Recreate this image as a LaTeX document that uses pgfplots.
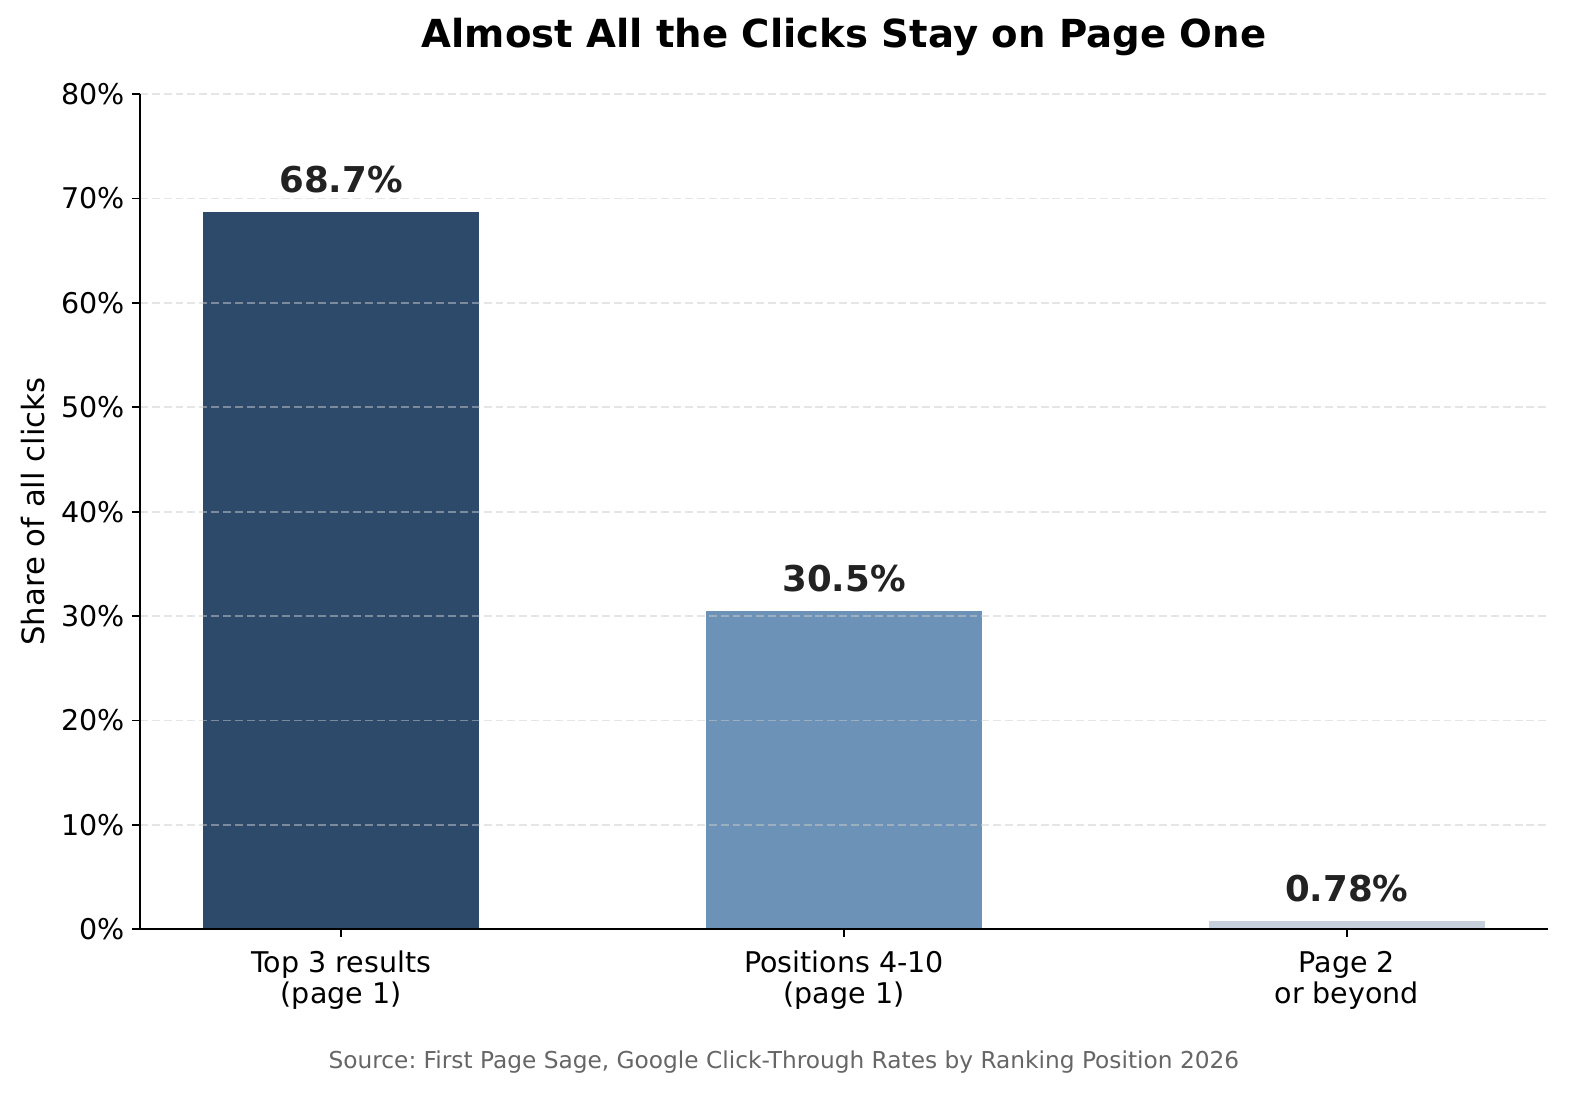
\documentclass[border=0pt]{standalone}
\usepackage{pgfplots}
\pgfplotsset{compat=1.18}
\usepackage{fontspec}
\setmainfont{DejaVu Sans}
\frenchspacing
\definecolor{c1}{HTML}{2D4A6B}
\definecolor{c2}{HTML}{6D92B7}
\definecolor{c3}{HTML}{C6D0DC}
\definecolor{lab}{HTML}{222222}
\definecolor{src}{HTML}{666666}
\definecolor{gridc}{HTML}{CCCCCC}
\begin{document}
\begin{tikzpicture}
\fill[white] (0,0) rectangle (720pt,503.1pt);
\begin{axis}[
  at={(63.8pt,79.7pt)}, anchor=south west,
  scale only axis, width=641.6pt, height=380.5pt,
  xmin=-0.4, xmax=2.4, ymin=0, ymax=80,
  axis x line*=bottom, axis y line*=left,
  axis line style={line width=0.8pt, black},
  axis on top,
  tick align=outside, major tick length=3.5pt,
  tick style={line width=0.8pt, black},
  /pgf/number format/assume math mode=true,
  xtick={0,1,2},
  xticklabels={{Top 3 results\\(page 1)},{Positions 4-10\\(page 1)},{Page 2\\or beyond}},
  xticklabel style={align=center, font=\fontsize{13}{14.2}\selectfont, yshift=-3pt},
  ytick={0,10,...,80},
  yticklabel={\pgfmathprintnumber{\tick}\%},
  yticklabel style={font=\fontsize{13}{14.2}\selectfont},
  ymajorgrids,
  major grid style={dash pattern=on 3.6pt off 1.8pt, line width=0.8pt, gridc, opacity=0.5},
  ybar, bar width=0.55,
  point meta=explicit symbolic,
  nodes near coords,
  every node near coord/.append style={font=\bfseries\fontsize{16.2}{18}\selectfont, text=lab, anchor=base, yshift=9pt, inner sep=0pt},
]
\addplot[fill=c1, draw=none, bar shift=0pt] coordinates {(0,68.7) [68.7\%]};
\addplot[fill=c2, draw=none, bar shift=0pt] coordinates {(1,30.5) [30.5\%]};
\addplot[fill=c3, draw=none, bar shift=0pt] coordinates {(2,0.78) [0.78\%]};
\end{axis}
\node[font=\fontsize{14}{16}\selectfont, rotate=90, anchor=center] at (15pt,269.95pt) {Share of all clicks};
\node[font=\bfseries\fontsize{17.6}{20}\selectfont, anchor=center] at (384.6pt,486.2pt) {Almost All the Clicks Stay on Page One};
\node[font=\fontsize{10.6}{12}\selectfont, text=src, anchor=center] at (357.2pt,19.2pt) {Source: First Page Sage, Google Click-Through Rates by Ranking Position 2026};
\pgfresetboundingbox
\path[use as bounding box] (0,0) rectangle (720pt,503.1pt);
\end{tikzpicture}
\end{document}
